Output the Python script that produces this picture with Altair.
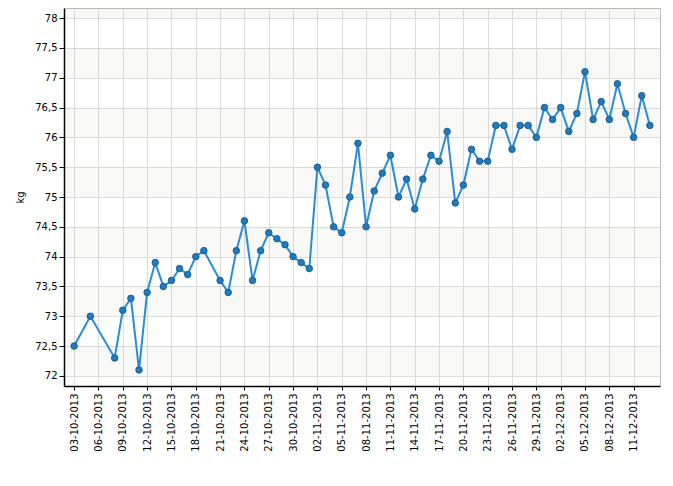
import altair as alt
import pandas as pd

dates = ["03-10-2013","05-10-2013","08-10-2013","09-10-2013","10-10-2013","11-10-2013",
         "12-10-2013","13-10-2013","14-10-2013","15-10-2013","16-10-2013","17-10-2013",
         "18-10-2013","19-10-2013","21-10-2013","22-10-2013","23-10-2013","24-10-2013",
         "25-10-2013","26-10-2013","27-10-2013","28-10-2013","29-10-2013","30-10-2013",
         "31-10-2013","01-11-2013","02-11-2013","03-11-2013","04-11-2013","05-11-2013",
         "06-11-2013","07-11-2013","08-11-2013","09-11-2013","10-11-2013","11-11-2013",
         "12-11-2013","13-11-2013","14-11-2013","15-11-2013","16-11-2013","17-11-2013",
         "18-11-2013","19-11-2013","20-11-2013","21-11-2013","22-11-2013","23-11-2013",
         "24-11-2013","25-11-2013","26-11-2013","27-11-2013","28-11-2013","29-11-2013",
         "30-11-2013","01-12-2013","02-12-2013","03-12-2013","04-12-2013","05-12-2013",
         "06-12-2013","07-12-2013","08-12-2013","09-12-2013","10-12-2013","11-12-2013",
         "12-12-2013","13-12-2013"]
weights = [72.5,73.0,72.3,73.1,73.3,72.1,
           73.4,73.9,73.5,73.6,73.8,73.7,
           74.0,74.1,73.6,73.4,74.1,74.6,
           73.6,74.1,74.4,74.3,74.2,74.0,
           73.9,73.8,75.5,75.2,74.5,74.4,
           75.0,75.9,74.5,75.1,75.4,75.7,
           75.0,75.3,74.8,75.3,75.7,75.6,
           76.1,74.9,75.2,75.8,75.6,75.6,
           76.2,76.2,75.8,76.2,76.2,76.0,
           76.5,76.3,76.5,76.1,76.4,77.1,
           76.3,76.6,76.3,76.9,76.4,76.0,
           76.7,76.2]

x_ticks = ["03-10-2013","06-10-2013","09-10-2013","12-10-2013","15-10-2013","18-10-2013",
           "21-10-2013","24-10-2013","27-10-2013","30-10-2013","02-11-2013","05-11-2013",
           "08-11-2013","11-11-2013","14-11-2013","17-11-2013","20-11-2013","23-11-2013",
           "26-11-2013","29-11-2013","02-12-2013","05-12-2013","08-12-2013","11-12-2013"]
y_ticks = [72, 72.5, 73, 73.5, 74, 74.5, 75, 75.5, 76, 76.5, 77, 77.5, 78]
band_lo = [72, 73, 74, 75, 76, 77, 78]
band_hi = [72.5, 73.5, 74.5, 75.5, 76.5, 77.5, 78.5]


def to_iso(s):
    d, m, y = s.split("-")
    return f"{y}-{m}-{d}"


def to_dt(s, hours=0):
    d, m, y = s.split("-")
    return alt.DateTime(year=int(y), month=int(m), date=int(d), hours=hours, utc=True)


df = pd.DataFrame({"date": [to_iso(s) for s in dates], "kg": weights})
bands = pd.DataFrame({"lo": band_lo, "hi": band_hi})

x_domain = [to_dt("01-10-2013", 18), to_dt("14-12-2013", 6)]
y_domain = [71.83, 78.17]

FONT = "DejaVu Sans"

x_enc = alt.X(
    "date:T",
    scale=alt.Scale(type="utc", domain=x_domain, nice=False),
    axis=alt.Axis(
        values=[to_dt(s) for s in x_ticks],
        labelExpr="utcFormat(datum.value, '%d-%m-%Y')",
        labelAngle=270,
        labelAlign="right",
        labelBaseline="middle",
        labelPadding=3,
        tickSize=4,
        title=None,
        labelOverlap=False,
    ),
)
y_scale = alt.Scale(domain=y_domain, nice=False, zero=False)
y_axis = alt.Axis(
    values=y_ticks,
    labelExpr="replace(format(datum.value, '.1~f'), '.', ',')",
    tickSize=5,
    labelPadding=2,
    title="kg",
    titleAngle=270,
    titleAlign="center",
    titleBaseline="middle",
    titleX=-44,
    titleY=189,
    titleFontWeight="normal",
    titleFontSize=10,
    titleFont=FONT,
    titleColor="black",
)

band_layer = alt.Chart(bands).mark_rect(color="#8a8a60", opacity=0.06, clip=True).encode(
    y=alt.Y("lo:Q", scale=y_scale, axis=y_axis),
    y2="hi:Q",
)

line = alt.Chart(df).mark_line(color="#2a8bd6", strokeWidth=2).encode(
    x=x_enc,
    y=alt.Y("kg:Q", scale=y_scale, axis=y_axis),
)
points = alt.Chart(df).mark_point(
    filled=True, fill="#1f7bc1", stroke="#1b5d91", strokeWidth=1, size=42, opacity=1
).encode(
    x=x_enc,
    y=alt.Y("kg:Q", scale=y_scale, axis=y_axis),
)

chart = alt.layer(band_layer, line, points).properties(
    width=596,
    height=378,
    autosize=alt.AutoSizeParams(type="none"),
    padding={"left": 56, "top": 0, "right": 4, "bottom": 80},
).configure_view(
    stroke="#bdbdbd", strokeWidth=1
).configure_axis(
    gridColor="#dcdcdc",
    gridWidth=1,
    domainColor="black",
    domainWidth=1.5,
    tickColor="black",
    tickWidth=1,
    labelFont=FONT,
    labelFontSize=10,
    labelColor="black",
)

chart.save("out.html", embed_options={"renderer": "svg", "actions": False})
